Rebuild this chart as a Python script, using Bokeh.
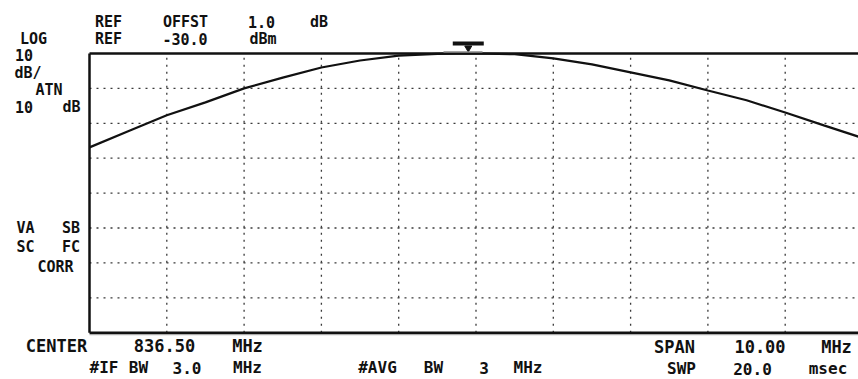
from bokeh.plotting import figure
from bokeh.embed import file_html
from bokeh.resources import INLINE
from bokeh.core.properties import value

# ---- data ----
center_mhz = 836.50
span_mhz = 10.00
ref_level = -30.0
db_per_div = 10.0
n_vdiv = 8

freqs = [831.5, 832.0, 832.5, 833.0, 833.5, 834.0, 834.5, 835.0, 835.5, 836.0,
         836.5, 837.0, 837.5, 838.0, 838.5, 839.0, 839.5, 840.0, 840.5, 841.0, 841.5]
levels = [-56.9, -52.3, -47.7, -44.0, -40.0, -36.9, -34.0, -32.0, -30.6, -30.1,
          -30.0, -30.2, -31.4, -33.1, -35.4, -37.7, -40.6, -43.4, -46.9, -50.6, -54.2]

marker_freq = 836.40
marker_level = -30.0

freq_ticks = [831.5, 832.5, 833.5, 834.5, 835.5, 836.5, 837.5, 838.5, 839.5, 840.5, 841.5]
db_ticks = [-30, -40, -50, -60, -70, -80, -90, -100, -110]

# ---- page geometry (reference pixel layout) ----
W, H = 858, 379
OFF = 0
px_per_mhz = 77.3
px_per_db = 3.49
grid_left_px = 89.0
grid_top_px = 53.0

f0 = freq_ticks[0]
def fx(px):
    return f0 + (px - grid_left_px) / px_per_mhz

def fy(py):
    return ref_level - (py - grid_top_px) / px_per_db

p = figure(width=W, height=H, output_backend="svg", toolbar_location=None,
           x_range=(fx(OFF), fx(OFF + W)), y_range=(fy(OFF + H), fy(OFF)),
           x_axis_type=None, y_axis_type=None, min_border=0)
p.grid.visible = False
p.outline_line_color = None
p.background_fill_color = "white"
p.border_fill_color = "white"

bottom_db = ref_level - n_vdiv * db_per_div
left_f = freq_ticks[0]
right_f = freq_ticks[-1]

# dotted graticule
vx = freq_ticks[1:-1]
p.segment(x0=vx, y0=[bottom_db] * len(vx), x1=vx, y1=[ref_level] * len(vx),
          line_color="#3a3a3a", line_width=1.3, line_dash="2 5")
hy = db_ticks[1:-1]
p.segment(x0=[left_f] * len(hy), y0=hy, x1=[right_f] * len(hy), y1=hy,
          line_color="#3a3a3a", line_width=1.3, line_dash="2 5")

# graticule border
p.segment(x0=[left_f, left_f, left_f, right_f], y0=[bottom_db, ref_level, bottom_db, bottom_db],
          x1=[left_f, right_f, right_f, right_f], y1=[ref_level, ref_level, bottom_db, ref_level],
          line_color="#111111", line_width=2.5)
p.segment(x0=[left_f], y0=[bottom_db - 2 / px_per_db], x1=[right_f], y1=[bottom_db - 2 / px_per_db],
          line_color="#999999", line_width=1)

# trace
p.line(freqs, levels, line_color="#111111", line_width=2.2)

# marker symbol above the peak
p.scatter([marker_freq], [marker_level + 10 / px_per_db], marker="dash", size=31,
          line_color="#111111", line_width=4)
p.scatter([marker_freq], [marker_level + 5.5 / px_per_db], marker="inverted_triangle", size=7,
          fill_color="#111111", line_color="#111111")
p.segment(x0=[fx(443)], y0=[marker_level + 1.5 / px_per_db], x1=[fx(482)], y1=[marker_level + 1.5 / px_per_db],
          line_color="#888888", line_width=1.5)

# annotation texts: (word, left px, right px, center y px, font size) -> centred in span
words = [
    ("REF", 88, 128, 21.5, 15), ("OFFST", 148, 222, 21.5, 15), ("1.0", 240, 282, 21.5, 15), ("dB", 305, 332, 21.5, 15),
    ("LOG", 13, 53, 38, 15), ("REF", 88, 128, 38, 15), ("-30.0", 147, 222, 38, 15), ("dBm", 238, 287, 38, 15),
    ("10", 13, 34, 54, 15),
    ("dB/", 13, 42, 72, 15),
    ("ATN", 27, 70, 89, 15),
    ("10", 13, 34, 106, 15), ("dB", 57, 85, 106, 15),
    ("VA", 12, 38, 227.5, 15), ("SB", 58, 83, 227.5, 15),
    ("SC", 12, 38, 246, 15), ("FC", 58, 83, 246, 15),
    ("CORR", 27, 83, 266, 15),
    ("CENTER", 12, 100, 345, 17), ("836.50", 118, 210, 345, 17), ("MHz", 227, 267, 345, 17),
    ("SPAN", 645, 703, 346, 17), ("10.00", 722, 797, 346, 17), ("MHz", 815, 857, 346, 17),
    ("#IF", 90, 117, 367, 16), ("BW", 128, 148, 367, 16), ("3.0", 163, 210, 367, 16), ("MHz", 227, 267, 367, 16),
    ("#AVG", 342, 412, 367, 16), ("BW", 420, 446, 367, 16), ("3", 477, 490, 367, 16), ("MHz", 507, 548, 367, 16),
    ("SWP", 660, 702, 368, 16), ("20.0", 722, 782, 368, 16), ("msec", 798, 857, 368, 16),
]

for size in sorted(set(w[4] for w in words)):
    sel = [w for w in words if w[4] == size]
    p.text(x=[fx((w[1] + w[2]) / 2) for w in sel], y=[fy(w[3]) for w in sel], text=[w[0] for w in sel],
           text_font=value("DejaVu Sans Mono"), text_font_style="bold",
           text_font_size=f"{size}px", text_color="#111111",
           text_align="center", text_baseline="middle")

open("out.html", "w").write(file_html(p, INLINE))
